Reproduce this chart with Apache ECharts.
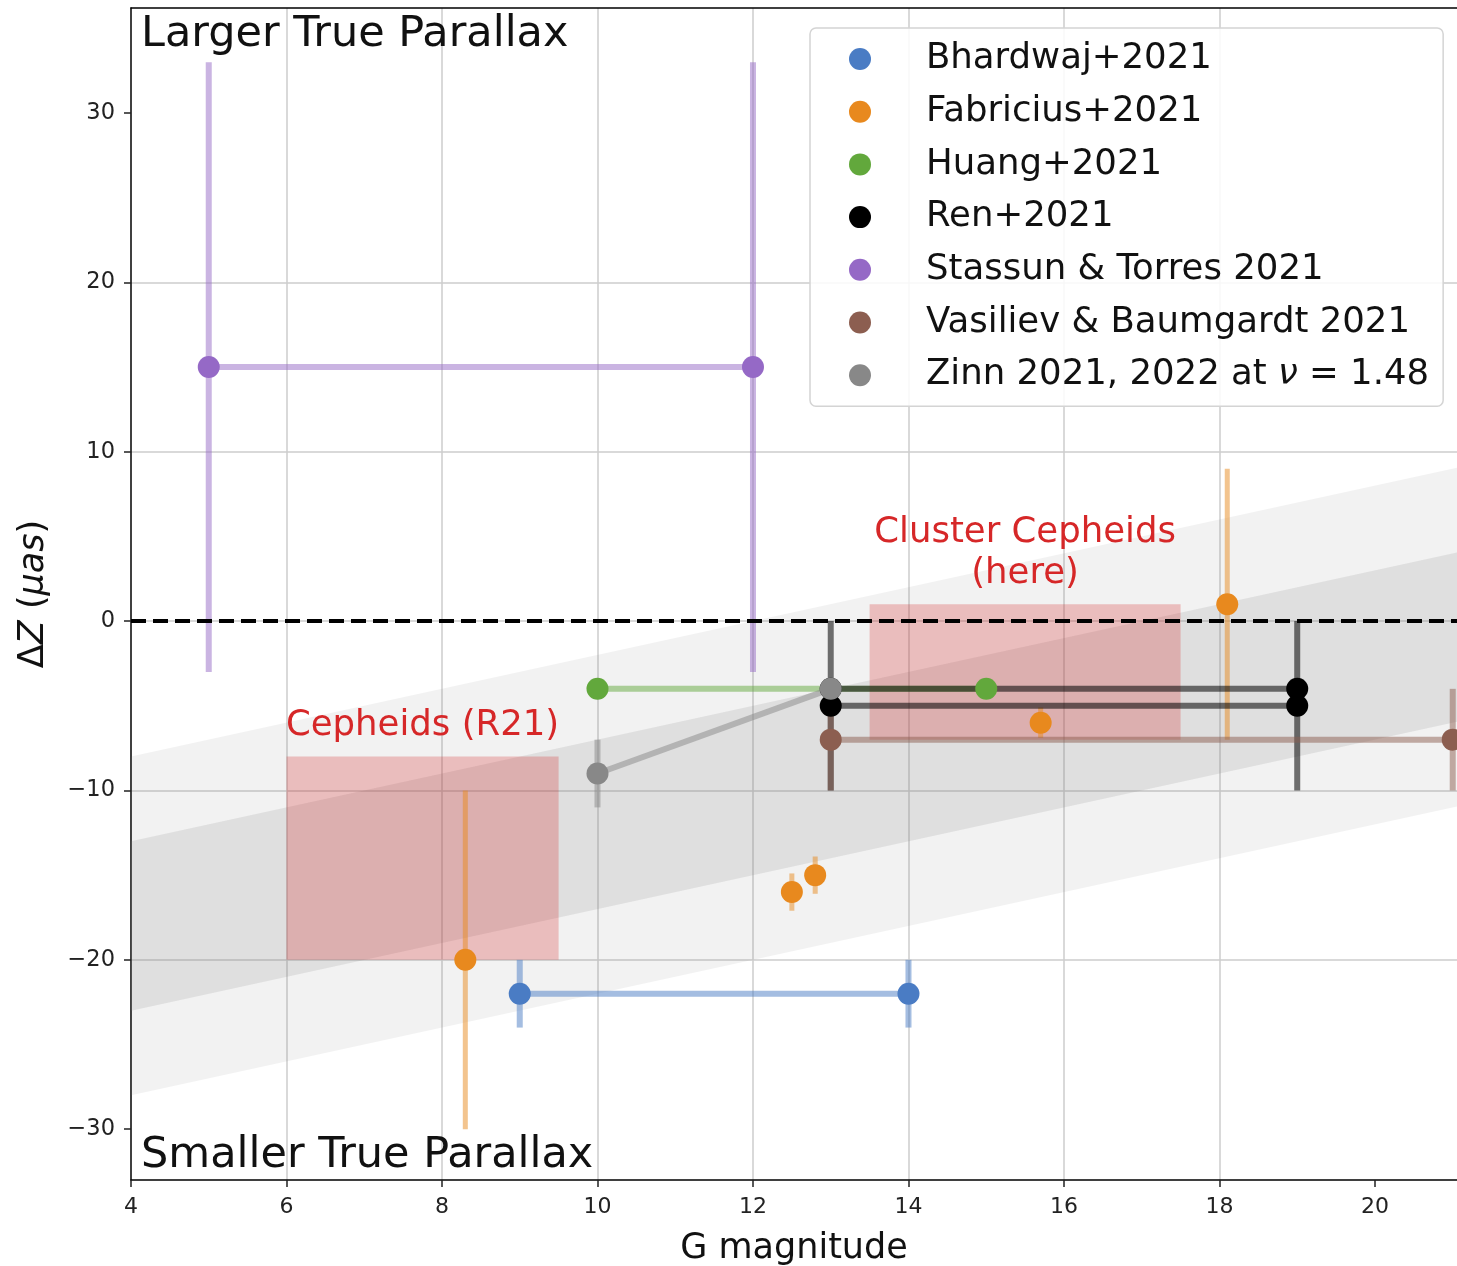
<!DOCTYPE html>
<html>
<head>
<meta charset="utf-8">
<script src="https://cdn.jsdelivr.net/npm/echarts@6/dist/echarts.min.js"></script>
<style>
  html, body { margin: 0; padding: 0; background: #ffffff; }
  #chart { width: 1457px; height: 1266px; }
</style>
</head>
<body>
<div id="chart"></div>
<script>
// ---- axis ranges and tick values ----
const gRange = [4, 21.055];
const dzRange = [-33, 36.2];
const gTicks = [4, 6, 8, 10, 12, 14, 16, 18, 20];
const dzTicks = [-30, -20, -10, 0, 10, 20, 30];

// ---- literature offsets (G magnitude, ΔZ in μas, 1σ error) ----
const bhardwajG = [9, 14];
const bhardwajDZ = [-22, -22];
const bhardwajErr = [2, 2];

const fabriciusG = [8.3, 12.5, 12.8, 15.7, 18.1];
const fabriciusDZ = [-20, -16, -15, -6, 1];
const fabriciusErr = [10, 1.1, 1.1, 0.9, 8];

const huangG = [10, 15];
const huangDZ = [-4, -4];
const huangErr = [0, 0];

const renUpperG = [13, 19];
const renUpperDZ = [-4, -4];
const renUpperErr = [0, 0];
const renLowerG = [13, 19];
const renLowerDZ = [-5, -5];
const renLowerErr = [5, 5];

const stassunG = [5, 12];
const stassunDZ = [15, 15];
const stassunErr = [18, 18];

const vasilievG = [13, 21];
const vasilievDZ = [-7, -7];
const vasilievErr = [3, 3];

const zinnG = [10, 13];
const zinnDZ = [-9, -4];
const zinnErr = [2, 0];

// ---- shaded trend bands (edges at both ends of the G range) ----
const bandG = [4, 22];
const bandOuterLow = [-28, -10];
const bandOuterHigh = [-8, 10];
const bandInnerLow = [-23, -5];
const bandInnerHigh = [-13, 5];

// ---- Cepheid regions ----
const regionNames = ['Cepheids (R21)', 'Cluster Cepheids\n(here)'];
const regionG0 = [6, 13.5];
const regionG1 = [9.5, 17.5];
const regionLow = [-20, -7];
const regionHigh = [-8, 1];

// ---- styling ----
const FONT = 'DejaVu Sans';
const colors = {
  'Bhardwaj+2021': '#4a7cc4',
  'Fabricius+2021': '#e8891e',
  'Huang+2021': '#62a83c',
  'Ren+2021': '#000000',
  'Stassun & Torres 2021': '#9569c6',
  'Vasiliev & Baumgardt 2021': '#8c5e50',
  'Zinn 2021, 2022 at ν = 1.48': '#888888'
};
const legendNames = Object.keys(colors);

const series = [];

// translucent bands
const bands = [
  { low: bandOuterLow, high: bandOuterHigh, fill: 'rgba(128,128,128,0.10)' },
  { low: bandInnerLow, high: bandInnerHigh, fill: 'rgba(128,128,128,0.17)' }
];
series.push({
  type: 'custom',
  silent: true,
  clip: true,
  z: 1,
  data: bands.map((b, i) => [bandG[0], b.low[0], i]),
  encode: { x: 0, y: 1 },
  renderItem: function (params, api) {
    const b = bands[api.value(2)];
    const pts = [
      api.coord([bandG[0], b.low[0]]),
      api.coord([bandG[1], b.low[1]]),
      api.coord([bandG[1], b.high[1]]),
      api.coord([bandG[0], b.high[0]])
    ];
    return { type: 'polygon', shape: { points: pts }, style: { fill: b.fill } };
  }
});

// red Cepheid boxes with their captions
series.push({
  type: 'custom',
  silent: true,
  z: 2,
  data: regionNames.map((n, i) => [regionG0[i], regionLow[i], i]),
  encode: { x: 0, y: 1 },
  renderItem: function (params, api) {
    const i = api.value(2);
    const tl = api.coord([regionG0[i], regionHigh[i]]);
    const br = api.coord([regionG1[i], regionLow[i]]);
    return {
      type: 'group',
      children: [
        {
          type: 'rect',
          shape: { x: tl[0], y: tl[1], width: br[0] - tl[0], height: br[1] - tl[1] },
          style: { fill: 'rgba(214,39,40,0.26)' }
        },
        {
          type: 'text',
          x: (tl[0] + br[0]) / 2,
          y: tl[1] - 10,
          style: {
            text: regionNames[i],
            fill: '#d62728',
            font: '35.5px "' + FONT + '"',
            align: 'center',
            verticalAlign: 'bottom',
            lineHeight: 41
          }
        }
      ]
    };
  }
});

function errRender(color, alpha, width) {
  return function (params, api) {
    const e = api.value(2);
    if (!(e > 0)) return null;
    const x = api.value(0), y = api.value(1);
    const top = api.coord([x, y + e]);
    const bot = api.coord([x, y - e]);
    return {
      type: 'line',
      shape: { x1: top[0], y1: top[1], x2: bot[0], y2: bot[1] },
      style: { stroke: color, lineWidth: width, opacity: alpha }
    };
  };
}

function addDataset(name, rows, lineAlpha) {
  const color = colors[name];
  rows.forEach(r => {
    if (r.connect) {
      series.push({
        name: name, type: 'line', z: 3, silent: true,
        color: color,
        symbol: 'none',
        data: r.g.map((x, i) => [x, r.dz[i]]),
        lineStyle: { color: color, width: 6, opacity: lineAlpha }
      });
    }
  });
  rows.forEach(r => {
    series.push({
      name: name, type: 'custom', z: 3, silent: true,
      color: color,
      data: r.g.map((x, i) => [x, r.dz[i], r.err[i]]),
      encode: { x: 0, y: 1 },
      renderItem: errRender(color, lineAlpha, r.width || 6)
    });
  });
  rows.forEach(r => {
    series.push({
      name: name, type: 'scatter', z: 3, silent: true,
      color: color,
      symbolSize: 22,
      data: r.g.map((x, i) => [x, r.dz[i]]),
      itemStyle: { color: color, opacity: 1 }
    });
  });
}

addDataset('Bhardwaj+2021', [{ g: bhardwajG, dz: bhardwajDZ, err: bhardwajErr, connect: true }], 0.5);
addDataset('Fabricius+2021', [{ g: fabriciusG, dz: fabriciusDZ, err: fabriciusErr, connect: false, width: 5 }], 0.5);
addDataset('Huang+2021', [{ g: huangG, dz: huangDZ, err: huangErr, connect: true }], 0.5);
addDataset('Ren+2021', [
  { g: renUpperG, dz: renUpperDZ, err: renUpperErr, connect: true },
  { g: renLowerG, dz: renLowerDZ, err: renLowerErr, connect: true }
], 0.55);
addDataset('Stassun & Torres 2021', [{ g: stassunG, dz: stassunDZ, err: stassunErr, connect: true }], 0.5);
addDataset('Vasiliev & Baumgardt 2021', [{ g: vasilievG, dz: vasilievDZ, err: vasilievErr, connect: true }], 0.5);
addDataset('Zinn 2021, 2022 at ν = 1.48', [{ g: zinnG, dz: zinnDZ, err: zinnErr, connect: true }], 0.5);

// zero-offset reference line
series.push({
  type: 'line', z: 5, silent: true, data: [],
  markLine: {
    silent: true,
    symbol: 'none',
    label: { show: false },
    lineStyle: { color: '#000', width: 4, type: [15, 7] },
    data: [{ yAxis: 0 }]
  }
});

const minusFmt = v => String(v).replace('-', '\u2212');

// legend labels: the ν symbol is set in italics
const legendFmt = n => n.indexOf('ν') >= 0
  ? n.split('ν').map(s => '{t|' + s + '}').join('{it|ν}')
  : '{t|' + n + '}';

const chart = echarts.init(document.getElementById('chart'), null, { renderer: 'canvas' });
chart.setOption({
  animation: false,
  backgroundColor: '#ffffff',
  textStyle: { fontFamily: FONT },
  grid: { left: 131, right: 0, top: 8, bottom: 86, containLabel: false, outerBoundsMode: 'none' },
  xAxis: [
    {
      type: 'value',
      min: gRange[0], max: gRange[1],
      name: 'G magnitude',
      nameLocation: 'middle',
      nameGap: 51,
      nameTextStyle: { fontSize: 35, color: '#111', fontFamily: FONT },
      axisLine: { show: true, onZero: false, lineStyle: { color: '#000', width: 1.5 } },
      axisTick: { show: true, length: 7, customValues: gTicks, lineStyle: { color: '#222', width: 1.5 } },
      axisLabel: { customValues: gTicks, fontSize: 22, color: '#222', margin: 16, fontFamily: FONT, formatter: minusFmt },
      splitLine: { show: true, showMinLine: false, showMaxLine: false, lineStyle: { color: '#cdcdcd', width: 1.5 } },
      minInterval: 2, maxInterval: 2
    },
    {
      type: 'value',
      position: 'top',
      min: gRange[0], max: gRange[1],
      axisLine: { show: true, onZero: false, lineStyle: { color: '#000', width: 1.5 } },
      axisTick: { show: false },
      axisLabel: { show: false },
      splitLine: { show: false }
    }
  ],
  yAxis: {
    type: 'value',
    min: dzRange[0], max: dzRange[1],
    name: '{r|Δ}{i|Z}{r| (}{i|μas}{r|)}',
    nameLocation: 'middle',
    nameRotate: 90,
    nameGap: 80,
    nameTextStyle: {
      fontSize: 35, color: '#111', fontFamily: FONT,
      rich: {
        r: { fontSize: 35, color: '#111', fontFamily: FONT },
        i: { fontSize: 35, color: '#111', fontFamily: FONT, fontStyle: 'italic' }
      }
    },
    axisLine: { show: true, onZero: false, lineStyle: { color: '#000', width: 1.5 } },
    axisTick: { show: true, length: 7, customValues: dzTicks, lineStyle: { color: '#222', width: 1.5 } },
    axisLabel: { customValues: dzTicks, fontSize: 22.5, color: '#222', margin: 16, fontFamily: FONT, formatter: minusFmt },
    splitLine: { show: true, showMinLine: false, showMaxLine: false, lineStyle: { color: '#cdcdcd', width: 1.5 } },
    minInterval: 10, maxInterval: 10
  },
  legend: {
    show: true,
    selectedMode: false,
    orient: 'vertical',
    left: 810,
    top: 28,
    padding: [11, 14, 11, 39],
    itemWidth: 22,
    itemHeight: 22,
    itemGap: 12.7,
    icon: 'circle',
    backgroundColor: 'rgba(255,255,255,0.85)',
    borderColor: '#d4d4d4',
    borderWidth: 1.5,
    borderRadius: 6,
    formatter: legendFmt,
    textStyle: {
      fontSize: 35.5, color: '#111', fontFamily: FONT, lineHeight: 40, padding: [0, 0, 0, 50],
      rich: {
        t: { fontSize: 35.5, color: '#111', fontFamily: FONT, lineHeight: 40 },
        it: { fontSize: 35.5, color: '#111', fontFamily: FONT, fontStyle: 'italic', lineHeight: 40 }
      }
    },
    data: legendNames.map(n => ({ name: n, icon: 'circle', itemStyle: { color: colors[n], opacity: 1 } }))
  },
  graphic: [
    { type: 'text', x: 141, y: 35, z: 100, style: { text: 'Larger True Parallax', font: '43px "' + FONT + '"', fill: '#111', verticalAlign: 'middle' } },
    { type: 'text', x: 141, y: 1156, z: 100, style: { text: 'Smaller True Parallax', font: '43px "' + FONT + '"', fill: '#111', verticalAlign: 'middle' } }
  ],
  series: series
});
</script>
</body>
</html>
